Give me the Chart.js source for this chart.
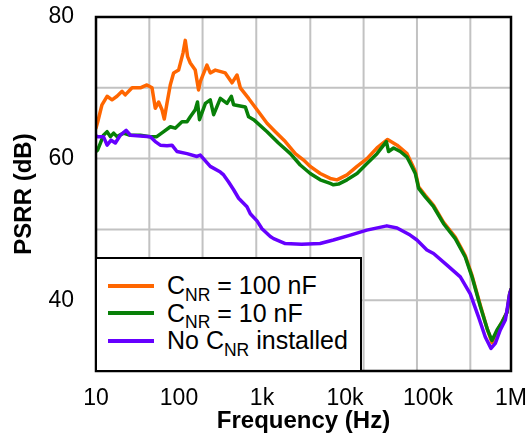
<!DOCTYPE html>
<html><head><meta charset="utf-8">
<script src="https://cdn.jsdelivr.net/npm/chart.js@4/dist/chart.umd.min.js"></script>
<style>
html,body{margin:0;padding:0;background:#fff;}
#wrap{position:relative;width:527px;height:442px;}
#legend{position:absolute;left:95px;top:257px;width:267px;height:114px;box-sizing:border-box;background:#fff;border:2px solid #000;font-family:'Liberation Sans',Arial,sans-serif;font-size:25px;color:#000;padding-top:13px;}
.row{position:relative;height:27.5px;line-height:27.5px;white-space:nowrap;}
.sw{position:absolute;left:11px;width:46px;height:4px;top:11.75px;}
.tx{position:absolute;left:70px;top:0;}
.sub{font-size:17.5px;position:relative;top:6.5px;}
</style></head>
<body><div id="wrap"><canvas id="c" width="527" height="442"></canvas><div id="legend"></div></div>
<script>
// ---- data ----
const decadeTicks = [10, 100, 1000, 10000, 100000, 1000000];
const decadeLabels = ['10', '100', '1k', '10k', '100k', '1M'];
const gridFreqs = [43.9, 192.3, 853, 3819, 16750, 73620, 323600];
const yGridValues = [40, 50, 60, 70];
const yTicks = [40, 60, 80];

const legendMain = ['C', 'C', 'No C'];
const legendSub = ['NR', 'NR', 'NR'];
const legendRest = [' = 100 nF', ' = 10 nF', ' installed'];
const seriesColors = ['#ff6600', '#088008', '#6600ff'];

const freq100n = [10, 10.5, 11.8, 13.6, 15.6, 17.9, 20.6, 22.5, 27.2, 34.2, 41.1, 47.3, 51.8, 56.8, 62.4, 66.5, 71.6, 78.5, 86.1, 98.9, 111.7, 119, 127, 136.8, 157, 172, 181, 217, 238, 274, 361, 435, 500, 548, 690, 871, 1149, 1446, 1908, 2518, 3170, 3811, 5026, 6630, 8013, 10570, 13960, 18400, 24300, 32600, 42400, 55900, 70300, 77100, 92700, 116700, 154000, 213000, 281000, 339000, 427000, 522000, 590000, 678000, 779000, 896000, 964000, 1000000];
const psrr100n = [64.3, 65.2, 67.6, 68.8, 68.3, 68.8, 69.5, 69.0, 70.0, 70.0, 70.4, 70.0, 67.1, 68.0, 66.9, 65.6, 67.8, 70.4, 72.1, 72.5, 74.9, 76.7, 74.4, 73.5, 72.5, 69.7, 70.9, 73.2, 72.1, 72.5, 72.1, 70.7, 71.8, 70.0, 68.5, 66.9, 65.0, 63.8, 62.4, 60.7, 59.8, 58.9, 57.9, 57.2, 57.0, 57.7, 58.9, 60.0, 61.5, 62.7, 61.9, 60.7, 58.2, 56.0, 54.8, 53.4, 51.0, 48.9, 46.3, 43.5, 39.3, 35.8, 34.0, 35.6, 36.9, 38.3, 40.9, 41.5];

const freq10n = [10, 10.45, 11.3, 12.3, 13.6, 14.9, 16.3, 17.9, 21.5, 25.8, 34.2, 45, 54, 65.4, 78.6, 90, 108.6, 124.9, 136.8, 157, 167, 176.5, 208, 238, 261.5, 314.8, 378.6, 427, 455, 629, 690, 794, 1150, 1578, 2194, 2890, 3811, 5026, 6630, 7250, 8340, 10570, 13960, 18400, 24300, 29200, 31500, 33500, 38500, 46300, 55900, 61200, 70300, 77100, 92700, 116700, 154000, 213000, 281000, 339000, 427000, 522000, 590000, 678000, 779000, 896000, 964000, 1000000];
const psrr10n = [61.0, 61.2, 62.2, 63.3, 63.8, 63.1, 63.6, 63.1, 63.6, 63.3, 63.3, 63.1, 63.1, 63.8, 64.5, 64.3, 65.2, 65.2, 65.9, 66.9, 68.0, 65.5, 67.8, 68.3, 66.2, 68.5, 67.8, 68.8, 67.6, 67.3, 65.9, 65.5, 63.8, 62.2, 60.7, 59.1, 57.9, 57.0, 56.5, 56.3, 56.4, 57.0, 57.9, 59.3, 60.7, 61.9, 62.4, 61.0, 61.5, 61.0, 60.2, 59.3, 57.9, 55.8, 54.6, 53.2, 50.8, 48.7, 46.1, 43.3, 39.1, 35.8, 34.3, 35.8, 36.9, 38.3, 40.9, 41.5];

const freqNone = [10, 10.45, 12.3, 13.6, 15.2, 17.1, 19.6, 23.1, 26, 34.2, 45.1, 51.8, 59.5, 71.7, 82.3, 94.5, 124.9, 164.6, 180.6, 238, 315, 345, 396, 455, 523, 659, 723, 870, 1000, 1259, 1380, 1908, 3000, 5010, 7250, 11590, 18310, 31900, 42400, 60900, 73600, 97000, 116700, 168000, 245000, 323000, 407000, 490000, 574000, 647000, 743000, 855000, 964000, 1000000];
const psrrNone = [63.2, 63.1, 63.1, 61.9, 62.6, 62.2, 63.3, 64.0, 63.3, 63.2, 63.1, 62.4, 61.9, 61.8, 61.9, 61.0, 60.7, 60.3, 60.5, 58.9, 58.1, 57.7, 56.7, 55.6, 54.4, 53.2, 52.2, 51.2, 50.1, 49.0, 48.7, 48.0, 47.9, 48.0, 48.5, 49.2, 49.9, 50.5, 50.2, 49.2, 48.5, 47.1, 46.6, 45.0, 43.3, 40.9, 37.6, 34.8, 33.2, 33.9, 35.8, 37.2, 40.9, 41.5];

// ---- chart ----
const FONT = "'Liberation Sans', Arial, sans-serif";
const GRID_COLOR = '#c2c2c2';
const toPts = (xs, ys) => xs.map((x, i) => ({x: x, y: ys[i]}));
const seriesFreqs = [freq100n, freq10n, freqNone];
const seriesVals = [psrr100n, psrr10n, psrrNone];

const datasets = seriesFreqs.map((f, i) => ({
  label: legendMain[i] + legendSub[i] + legendRest[i],
  data: toPts(f, seriesVals[i]),
  borderColor: seriesColors[i],
  backgroundColor: seriesColors[i],
  borderWidth: 3.5,
  pointRadius: 0,
  tension: 0,
  borderJoinStyle: 'round',
  borderCapStyle: 'round',
  order: 2 - i
}));

// grid lines drawn from the scales, beneath the data
const gridPlugin = {
  id: 'gridLines',
  beforeDatasetsDraw(chart) {
    const {ctx, chartArea: a, scales} = chart;
    ctx.save();
    ctx.strokeStyle = GRID_COLOR;
    ctx.lineWidth = 2;
    ctx.beginPath();
    gridFreqs.forEach(f => {
      const px = scales.x.getPixelForValue(f);
      ctx.moveTo(px, a.top); ctx.lineTo(px, a.bottom);
    });
    yGridValues.forEach(v => {
      const py = scales.y.getPixelForValue(v);
      ctx.moveTo(a.left, py); ctx.lineTo(a.right, py);
    });
    ctx.stroke();
    ctx.restore();
  }
};

const framePlugin = {
  id: 'frame',
  afterDraw(chart) {
    const {ctx, chartArea: a} = chart;
    ctx.save();
    ctx.strokeStyle = '#000';
    ctx.lineWidth = 2.5;
    ctx.strokeRect(a.left, a.top, a.right - a.left, a.bottom - a.top);
    ctx.restore();
  }
};

function buildLegend(chart) {
  const box = document.getElementById('legend');
  const a = chart.chartArea;
  box.style.left = (a.left - 1) + 'px';
  box.style.height = (a.bottom + 1 - 257) + 'px';
  chart.data.datasets.forEach((ds, i) => {
    const row = document.createElement('div');
    row.className = 'row';
    const sw = document.createElement('span');
    sw.className = 'sw';
    sw.style.background = ds.borderColor;
    row.appendChild(sw);
    const tx = document.createElement('span');
    tx.className = 'tx';
    tx.appendChild(document.createTextNode(legendMain[i]));
    const sub = document.createElement('span');
    sub.className = 'sub';
    sub.textContent = legendSub[i];
    tx.appendChild(sub);
    tx.appendChild(document.createTextNode(legendRest[i]));
    row.appendChild(tx);
    box.appendChild(row);
  });
}

const chart = new Chart(document.getElementById('c'), {
  type: 'line',
  data: {datasets: datasets},
  options: {
    responsive: false,
    animation: false,
    devicePixelRatio: 1,
    layout: {padding: {left: 0, top: 17, right: 16, bottom: 0}},
    plugins: {legend: {display: false}, tooltip: {enabled: false}},
    scales: {
      x: {
        type: 'logarithmic', min: 10, max: 1000000,
        afterBuildTicks: s => { s.ticks = decadeTicks.map(v => ({value: v})); },
        ticks: {
          autoSkip: false, maxRotation: 0, padding: 0, color: '#000',
          font: {size: 23, family: FONT},
          callback: v => { const i = decadeTicks.indexOf(v); return i >= 0 ? decadeLabels[i] : ''; }
        },
        grid: {display: true, drawOnChartArea: false, drawTicks: true, tickLength: 13.5, tickColor: 'rgba(0,0,0,0)'},
        border: {display: false},
        title: {display: true, text: 'Frequency (Hz)', color: '#000',
          font: {size: 24, weight: 'bold', family: FONT}, padding: {top: 0, bottom: 6.6}},
        afterFit: s => { s.height = 71; }
      },
      y: {
        min: 30, max: 80,
        ticks: {
          stepSize: 10, padding: 0, color: '#000',
          font: {size: 23, family: FONT},
          callback: v => yTicks.indexOf(v) >= 0 ? String(v) : ''
        },
        grid: {display: true, drawOnChartArea: false, drawTicks: true, tickLength: 22, tickColor: 'rgba(0,0,0,0)'},
        border: {display: false},
        title: {display: true, text: 'PSRR (dB)', color: '#000',
          font: {size: 24, weight: 'bold', family: FONT}, padding: {top: 10, bottom: 0}},
        afterFit: s => { s.width = 96; }
      }
    }
  },
  plugins: [gridPlugin, framePlugin]
});
buildLegend(chart);
</script>
</body></html>
